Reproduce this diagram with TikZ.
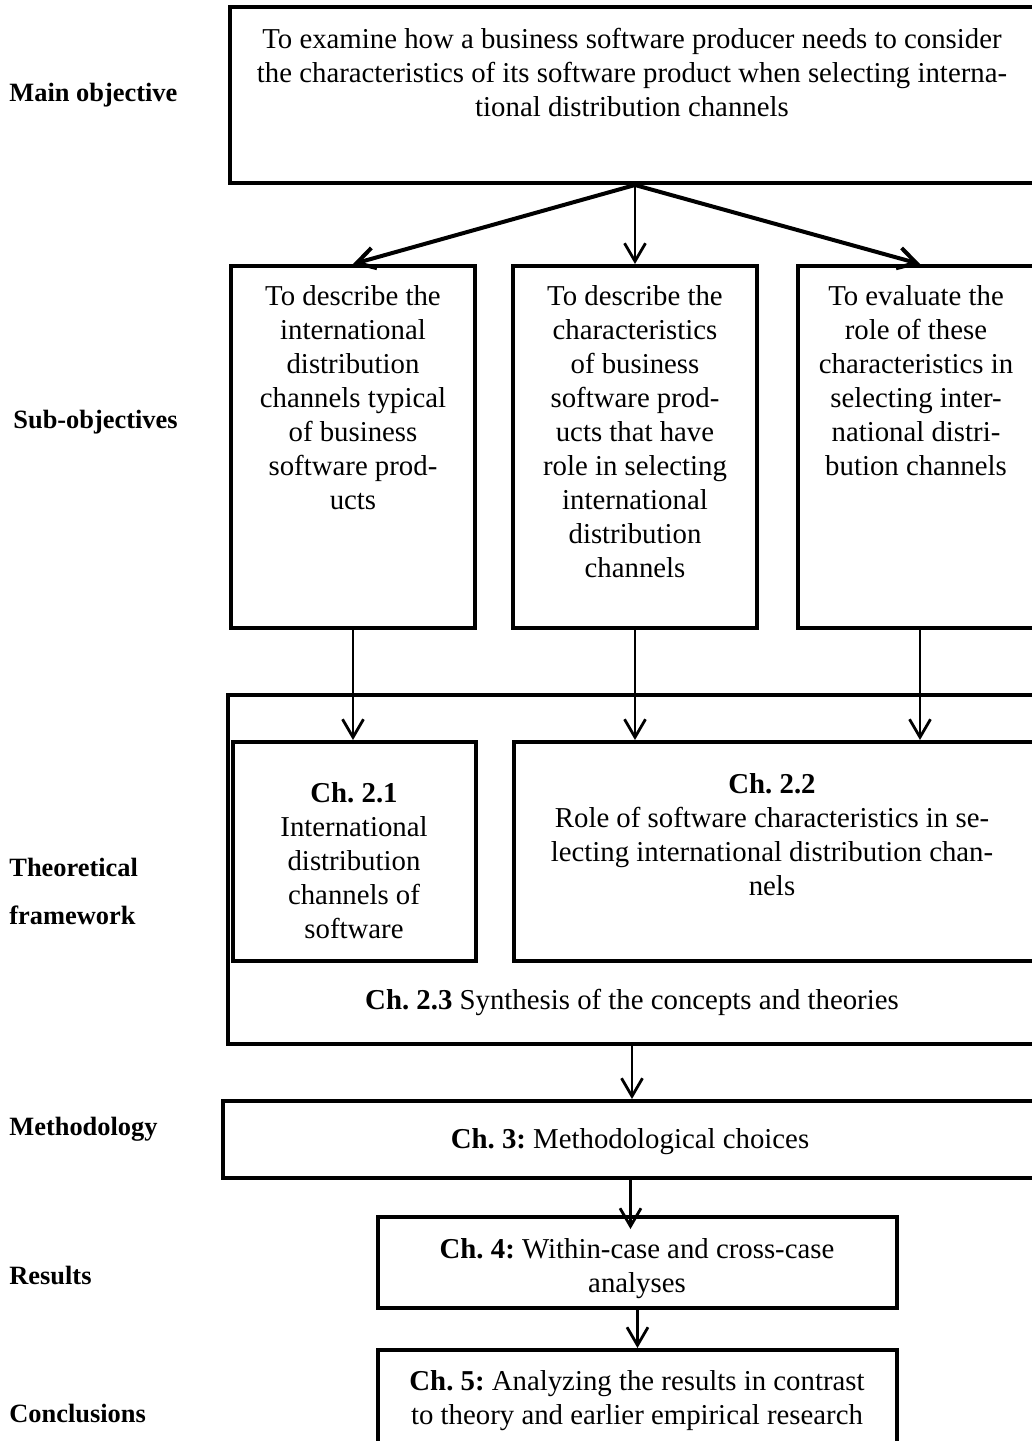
\documentclass[tikz,border=0pt]{standalone}
\usepackage{fontspec}
\setmainfont{Liberation Serif}
\frenchspacing
\usetikzlibrary{arrows.meta,calc}
\newcommand\pxu{0.5pt}
\tikzset{
  framebox/.style={draw, line width=2pt, inner sep=0pt, rectangle},
  body/.style={font=\fontsize{14.4}{17}\selectfont, align=center, inner sep=0pt},
  rowlabel/.style={font=\fontsize{13.2}{24}\selectfont\bfseries, align=left, anchor=west, inner sep=0pt},
  flow/.style={line width=1.4pt, -{Straight Barb[length=9pt,width=10.5pt]}},
  fan/.style={flow, line width=2pt},
}
\begin{document}
\begin{tikzpicture}[x=0.5pt,y=-0.5pt]
\useasboundingbox (0,0) rectangle (1032,1441);
\fill[white] (0,0) rectangle (1032,1441);
\clip (0,0) rectangle (1032,1441);

% row labels
\node[rowlabel] (lmain) at (9,95) {Main objective};
\node[rowlabel] (lsub) at (13,422) {Sub-objectives};
\node[rowlabel] (ltheo) at (9,891) {Theoretical\\framework};
\node[rowlabel] (lmeth) at (9,1129) {Methodology};
\node[rowlabel] (lres) at (9,1275) {Results};
\node[rowlabel] (lconc) at (9,1413) {Conclusions};

% boxes
\node[framebox, minimum width=810*\pxu, minimum height=176*\pxu] (main) at (635,95) {};
\node[framebox, minimum width=244*\pxu, minimum height=362*\pxu] (subL) at (353,447) {};
\node[framebox, minimum width=244*\pxu, minimum height=362*\pxu] (subM) at (635,447) {};
\node[framebox, minimum width=244*\pxu, minimum height=362*\pxu] (subR) at (920,447) {};
\node[framebox, minimum width=808*\pxu, minimum height=349*\pxu] (frame) at (632,869.5) {};
\node[framebox, minimum width=243*\pxu, minimum height=219*\pxu] (ch21) at (354.5,851.5) {};
\node[framebox, minimum width=526*\pxu, minimum height=219*\pxu] (ch22) at (777,851.5) {};
\node[framebox, minimum width=815*\pxu, minimum height=77*\pxu] (method) at (630.5,1139.5) {};
\node[framebox, minimum width=519*\pxu, minimum height=91*\pxu] (ch4) at (637.5,1262.5) {};
\node[framebox, minimum width=519*\pxu, minimum height=110*\pxu] (ch5) at (637.5,1405) {};

% box texts
\node[body, anchor=north] (tmain) at (632,28) {To examine how a business software producer needs to consider\\the characteristics of its software product when selecting interna-\\tional distribution channels};
\node[body, anchor=north] (tsubL) at (353,285) {To describe the\\international\\distribution\\channels typical\\of business\\software prod-\\ucts};
\node[body, anchor=north] (tsubM) at (635,285) {To describe the\\characteristics\\of business\\software prod-\\ucts that have\\role in selecting\\international\\distribution\\channels};
\node[body, anchor=north] (tsubR) at (916,285) {To evaluate the\\role of these\\characteristics in\\selecting inter-\\national distri-\\bution channels};
\node[body, anchor=north] (tch21) at (354,782) {\textbf{Ch. 2.1}\\International\\distribution\\channels of\\software};
\node[body, anchor=north] (tch22) at (772,773) {\textbf{Ch. 2.2}\\Role of software characteristics in se-\\lecting international distribution chan-\\nels};
\node[body] (tch23) at (632,1002) {\textbf{Ch. 2.3} Synthesis of the concepts and theories};
\node[body] (tmeth) at (630,1142) {\textbf{Ch. 3:} Methodological choices};
\node[body, anchor=north] (tch4) at (637,1238) {\textbf{Ch. 4:} Within-case and cross-case\\analyses};
\node[body, anchor=north] (tch5) at (637,1370) {\textbf{Ch. 5:} Analyzing the results in contrast\\to theory and earlier empirical research};

% connectors
\draw[fan] (main.south) -- (subL.north);
\draw[flow] (main.south) -- (subM.north);
\draw[fan] (main.south) -- (subR.north);
\draw[flow] (subL.south) -- (subL.south |- ch21.north);
\draw[flow] (subM.south) -- (subM.south |- ch22.north);
\draw[flow] (subR.south) -- (subR.south |- ch22.north);
\draw[flow] (frame.south) -- (frame.south |- method.north);
\coordinate (m4) at ($(method.south |- ch4.north)+(0,14)$);
\draw[flow] (method.south) -- (m4);
\draw[flow] (ch4.south) -- (ch4.south |- ch5.north);
\end{tikzpicture}
\end{document}
